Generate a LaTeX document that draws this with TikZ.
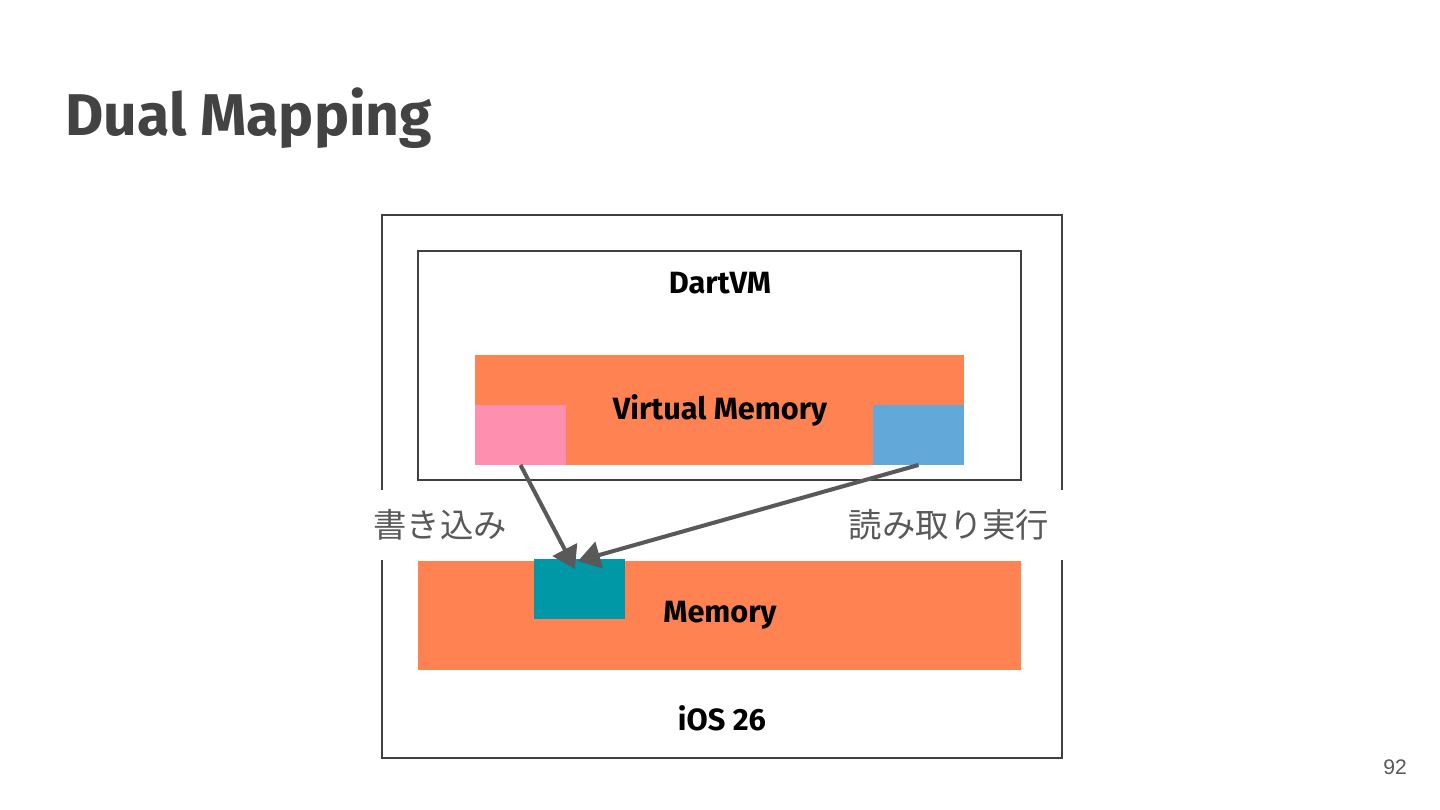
\documentclass[tikz,border=0pt]{standalone}
\usepackage{fontspec}
\setmainfont{Fira Sans}
\newfontfamily\jpfont{Noto Sans CJK JP}
\newfontfamily\pgnumfont{Liberation Sans}
\usepackage{tikz}
\usetikzlibrary{arrows.meta, positioning}
\usetikzlibrary{calc}
\usepackage{xcolor}
\definecolor{titlegray}{HTML}{434343}
\definecolor{labelgray}{HTML}{595959}
\definecolor{boxline}{HTML}{404040}
\definecolor{memorange}{HTML}{FF8352}
\definecolor{writepink}{HTML}{FF8FAF}
\definecolor{execblue}{HTML}{62A8D8}
\definecolor{physteal}{HTML}{0097A7}

\begin{document}
\begin{tikzpicture}[x=0.02cm, y=-0.02cm,
		frame/.style={draw=boxline, line width=0.8pt, inner sep=0pt},
		block/.style={inner sep=0pt, outer sep=0pt},
		tag/.style={font=\bfseries\fontsize{17.5}{20}\selectfont, text=black},
		side/.style={fill=white, inner sep=0pt, font=\jpfont\fontsize{19}{22}\selectfont, text=labelgray, minimum height=1.4cm},
		map/.style={draw=labelgray, line width=2.3pt, -{Triangle[length=0.44cm, width=0.54cm]}}]
		\useasboundingbox[fill=white] (0,0) rectangle (1440,810);

		\draw (65,118) node[anchor=west, inner sep=0pt, text=titlegray, font=\bfseries\fontsize{33.5}{38}\selectfont] (title) {Dual Mapping}
		(1395,767) node[inner sep=0pt, text=labelgray, font=\pgnumfont\fontsize{12}{14}\selectfont] (pgnum) {92};

		% outer and inner frames
		\draw (722,486.5) node[frame, minimum width=13.6cm, minimum height=10.86cm] (ios) {}
		(719.5,365.5) node[frame, minimum width=12.06cm, minimum height=4.58cm] (dartvm) {};

		% labels on the sides, blanking the outer frame
		\draw (440,525) node[side, minimum width=3.16cm] (write) {書き込み}
		(949,525) node[side, minimum width=4.64cm] (readexec) {読み取り実行};

		% memory blocks
		\draw (719.5,410) node[block, fill=memorange, minimum width=9.78cm, minimum height=2.2cm] (vmem) {}
		(520.5,435) node[block, fill=writepink, minimum width=1.82cm, minimum height=1.2cm] (wpage) {}
		(918.5,435) node[block, fill=execblue, minimum width=1.82cm, minimum height=1.2cm] (xpage) {}
		(719.5,615.5) node[block, fill=memorange, minimum width=12.06cm, minimum height=2.18cm] (mem) {}
		(579.5,589) node[block, fill=physteal, minimum width=1.82cm, minimum height=1.2cm] (ppage) {};

		\draw (720,283) node[tag] (dartvmlbl) {DartVM}
		(720,410) node[tag] (vmemlbl) {Virtual Memory}
		(720,615) node[tag] (memlbl) {Memory}
		(722,718) node[tag] (ioslbl) {iOS 26};

		\coordinate (wtip) at (575,569);
		\coordinate (xtip) at (578,561);
		\draw[map] (wpage.south) -- (wtip);
		\draw[map] (xpage.south) -- (xtip);
	\end{tikzpicture}
\end{document}
